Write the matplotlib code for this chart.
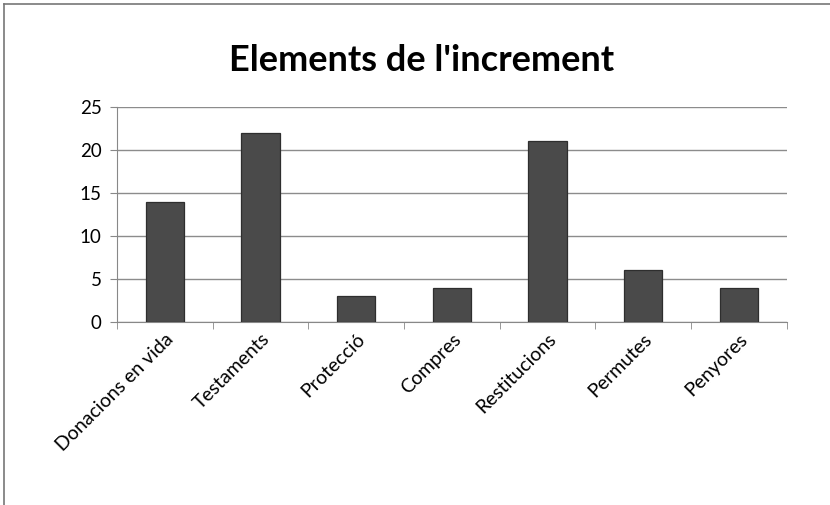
import matplotlib.pyplot as plt
from matplotlib.lines import Line2D

categories = ['Donacions en vida', 'Testaments', 'Protecció', 'Compres',
              'Restitucions', 'Permutes', 'Penyores']
values = [14, 22, 3, 4, 21, 6, 4]
yticks = [0, 5, 10, 15, 20, 25]

plt.rcParams['font.family'] = ['Lato', 'DejaVu Sans']

fig = plt.figure(figsize=(8.3, 5.05), dpi=100)
ax = fig.add_axes([0.141, 0.3624, 0.807, 0.4258])

x = range(len(categories))
ax.bar(x, values, width=0.4, color='#4a4a4a', edgecolor='#2e2e2e', linewidth=0.9, zorder=3)

ax.set_xlim(-0.5, len(categories) - 0.5)
ax.set_ylim(0, 25)
ax.set_yticks(yticks)
ax.yaxis.grid(True, color='#8c8c8c', linewidth=1.0, zorder=0)
ax.set_axisbelow(True)

ax.set_xticks(list(x))
ax.set_xticklabels(categories, rotation=45, ha='right', rotation_mode='anchor', fontsize=14)
ax.tick_params(axis='x', length=0, pad=6)
ax.set_xticks([i + 0.5 for i in range(-1, len(categories))], minor=True)
ax.tick_params(axis='x', which='minor', length=5, color='#888888', direction='out')
ax.tick_params(axis='y', labelsize=13.5, length=5, color='#888888', direction='out', pad=6)

for s in ['top', 'right']:
    ax.spines[s].set_visible(False)
ax.spines['left'].set_color('#888888')
ax.spines['bottom'].set_color('#888888')

fig.text(0.508, 0.88, "Elements de l'increment", ha='center', va='center',
         fontsize=26, fontweight='bold')

# outer frame (top and left edges visible in reference)
fig.add_artist(Line2D([0.005, 1.0], [0.992, 0.992], transform=fig.transFigure, color='#777777', linewidth=1.2))
fig.add_artist(Line2D([0.005, 0.005], [0.0, 0.992], transform=fig.transFigure, color='#777777', linewidth=1.2))

fig.savefig('out.png', dpi=100)
